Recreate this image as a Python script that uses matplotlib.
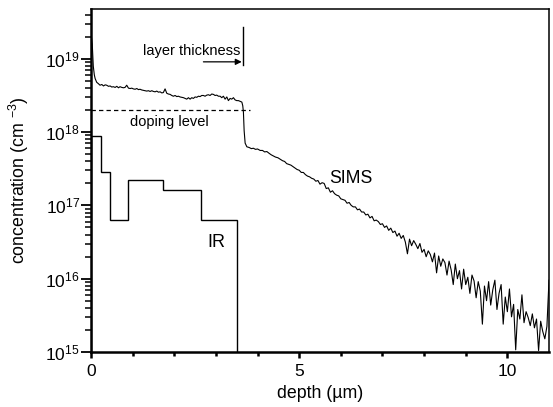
import matplotlib
matplotlib.use("Agg")
import numpy as np
from matplotlib import pyplot as plt
from matplotlib.ticker import LogLocator, FixedLocator

plt.rcParams["font.family"] = ["Liberation Sans", "DejaVu Sans"]
plt.rcParams["mathtext.fontset"] = "custom"
plt.rcParams["mathtext.rm"] = "Liberation Sans"
plt.rcParams["mathtext.it"] = "Liberation Sans:italic"
plt.rcParams["mathtext.bf"] = "Liberation Sans:bold"

# SIMS profile: depth (um) and log10 concentration (cm^-3)
sims_depth = [
    0.00, 0.03, 0.055, 0.08, 0.10, 0.137, 0.18, 0.216, 0.26, 0.30, 0.34, 0.377,
    0.42, 0.46, 0.50, 0.536, 0.58, 0.62, 0.66, 0.697, 0.74, 0.78, 0.817, 0.858,
    0.90, 0.94, 0.98, 1.017, 1.06, 1.10, 1.14, 1.178, 1.22, 1.26, 1.30, 1.339,
    1.38, 1.42, 1.46, 1.50, 1.54, 1.579, 1.62, 1.66, 1.70, 1.738, 1.779, 1.82,
    1.858, 1.90, 1.94, 1.978, 2.02, 2.06, 2.10, 2.139, 2.18, 2.22, 2.26, 2.30,
    2.34, 2.38, 2.42, 2.459, 2.50, 2.54, 2.58, 2.62, 2.66, 2.70, 2.74, 2.781,
    2.82, 2.86, 2.90, 2.94, 2.98, 3.02, 3.06, 3.101, 3.14, 3.18, 3.221, 3.262,
    3.30, 3.341, 3.38, 3.421, 3.46, 3.50, 3.541, 3.58, 3.623, 3.645, 3.661,
    3.678, 3.702, 3.743, 3.80, 3.85, 3.901, 3.95, 4.00, 4.063, 4.12, 4.17,
    4.224, 4.28, 4.33, 4.382, 4.43, 4.49, 4.543,
    4.60, 4.65, 4.70, 4.75, 4.80, 4.85, 4.90, 4.95, 5.00, 5.05, 5.10, 5.15,
    5.20, 5.25, 5.30, 5.35, 5.40, 5.45, 5.50, 5.55, 5.60, 5.65, 5.70, 5.75,
    5.80, 5.85, 5.90, 5.95, 6.00, 6.05, 6.10, 6.15, 6.20, 6.25, 6.30, 6.35,
    6.40, 6.45, 6.50, 6.55, 6.60, 6.65, 6.70, 6.75, 6.80, 6.85, 6.90, 6.95,
    7.00, 7.05, 7.10, 7.15, 7.20, 7.25, 7.30, 7.35, 7.40, 7.45, 7.50, 7.55,
    7.60, 7.65, 7.70, 7.75, 7.80, 7.85, 7.90, 7.95, 8.00, 8.05, 8.10, 8.15,
    8.20, 8.25, 8.30, 8.35, 8.40, 8.45, 8.50, 8.55, 8.60, 8.65, 8.70, 8.75,
    8.80, 8.85, 8.90, 8.95, 9.00, 9.05, 9.10, 9.15, 9.20, 9.25, 9.30, 9.35,
    9.40, 9.45, 9.50, 9.55, 9.60, 9.65, 9.70, 9.75, 9.80, 9.85, 9.90, 9.95,
    10.00, 10.05, 10.10, 10.15, 10.20, 10.25, 10.30, 10.35, 10.40, 10.45,
    10.50, 10.55, 10.60, 10.65, 10.70, 10.75, 10.80, 10.85, 10.90, 10.95, 11.00,
]
sims_log = [
    19.35, 19.20, 18.90, 18.78, 18.73, 18.68, 18.66, 18.64, 18.65, 18.63, 18.645, 18.64,
    18.625, 18.63, 18.615, 18.62, 18.61, 18.625, 18.605, 18.62, 18.61, 18.605, 18.61, 18.64,
    18.60, 18.595, 18.60, 18.59, 18.585, 18.595, 18.58, 18.585, 18.575, 18.57, 18.565, 18.56,
    18.565, 18.555, 18.565, 18.555, 18.55, 18.56, 18.545, 18.55, 18.535, 18.54, 18.59, 18.53,
    18.52, 18.515, 18.50, 18.49, 18.50, 18.485, 18.49, 18.48, 18.475, 18.47, 18.46, 18.45,
    18.47, 18.45, 18.47, 18.46, 18.48, 18.475, 18.49, 18.485, 18.50, 18.50, 18.49, 18.505,
    18.51, 18.50, 18.52, 18.515, 18.50, 18.505, 18.49, 18.49, 18.47, 18.49, 18.45, 18.48,
    18.43, 18.46, 18.45, 18.47, 18.44, 18.43, 18.43, 18.42, 18.41, 18.36, 18.27,
    18.02, 17.85, 17.80, 17.79, 17.775, 17.78, 17.765, 17.77, 17.75, 17.75, 17.73,
    17.735, 17.71, 17.69, 17.675, 17.66, 17.65, 17.63,
    17.61, 17.60, 17.57, 17.56, 17.55, 17.53, 17.51, 17.49, 17.48, 17.45, 17.45, 17.42,
    17.40, 17.39, 17.37, 17.36, 17.33, 17.34, 17.29, 17.31, 17.30, 17.23, 17.24, 17.18,
    17.20, 17.16, 17.14, 17.13, 17.09, 17.08, 17.07, 17.03, 17.04, 17.00, 16.98, 16.98,
    16.94, 16.95, 16.91, 16.91, 16.87, 16.88, 16.83, 16.85, 16.79, 16.80, 16.78, 16.74,
    16.75, 16.70, 16.72, 16.66, 16.69, 16.63, 16.65, 16.58, 16.62, 16.55, 16.59, 16.50,
    16.34, 16.54, 16.45, 16.52, 16.47, 16.41, 16.48, 16.36, 16.40, 16.30, 16.38, 16.33,
    16.23, 16.35, 16.08, 16.31, 16.17, 16.27, 16.22, 16.05, 16.24, 16.12, 15.92, 16.20,
    16.00, 16.11, 15.86, 16.13, 15.92, 16.02, 15.80, 16.05, 15.97, 15.74, 15.96, 15.83,
    15.38, 15.90, 15.70, 15.96, 15.64, 15.85, 15.98, 15.58, 15.80, 15.92, 15.38, 15.75,
    15.55, 15.86, 15.48, 15.65, 15.03, 15.58, 15.45, 15.78, 15.40, 15.55,
    15.47, 15.36, 15.52, 15.33, 15.45, 15.02, 15.42, 15.28, 15.18, 15.35, 15.98,
]

# IR step profile
ir_edges = [0.0, 0.23, 0.46, 0.88, 1.74, 2.64, 3.50]
ir_levels = [8.9e17, 2.9e17, 6.3e16, 2.2e17, 1.6e17, 6.3e16]

doping_level = 2.0e18
layer_thickness = 3.65

fig = plt.figure(figsize=(5.53, 4.07), dpi=100)
ax = fig.add_axes([91 / 553, 1 - 352 / 407, 458 / 553, 343 / 407])

ax.plot(sims_depth, 10 ** np.array(sims_log), color="black", linewidth=0.8)
ax.stairs(ir_levels, ir_edges, baseline=1e15, color="black", linewidth=1.0)
ax.plot([0, 3.82], [doping_level, doping_level], color="black",
        linewidth=0.9, linestyle=(0, (3.5, 2.5)))

# layer thickness marker
ax.plot([layer_thickness, layer_thickness], [8.3e18, 2.74e19],
        color="black", linewidth=1.0)
ax.annotate("", xy=(3.62, 9.1e18), xytext=(2.7, 9.1e18),
            arrowprops=dict(arrowstyle="-|>", color="black", lw=0.9,
                            mutation_scale=9, shrinkA=0, shrinkB=0))
ax.text(2.42, 1.29e19, "layer thickness", ha="center", va="center", fontsize=10.5)
ax.text(1.875, 1.38e18, "doping level", ha="center", va="center", fontsize=10.5)
ax.text(6.24, 2.3e17, "SIMS", ha="center", va="center", fontsize=12.7)
ax.text(3.0, 3.1e16, "IR", ha="center", va="center", fontsize=13)

ax.set_yscale("log")
ax.set_xlim(0, 11.0)
ax.set_ylim(1e15, 10 ** 19.68)

ax.xaxis.set_major_locator(FixedLocator([0, 5, 10]))
ax.xaxis.set_minor_locator(FixedLocator([1, 2, 3, 4, 6, 7, 8, 9]))
ax.yaxis.set_major_locator(LogLocator(base=10, numticks=10))
ax.yaxis.set_minor_locator(LogLocator(base=10, subs=np.arange(2, 10), numticks=20))

ax.tick_params(axis="y", which="major", direction="out", length=7, width=1.3,
               pad=1, labelsize=12.5)
ax.tick_params(axis="y", which="minor", direction="out", length=4, width=1.1)
ax.tick_params(axis="x", which="major", direction="out", length=4, width=1.8,
               pad=5, labelsize=12.5)
ax.tick_params(axis="x", which="minor", direction="out", length=3, width=1.8)

for side in ["left", "bottom"]:
    ax.spines[side].set_linewidth(1.8)
for side in ["top", "right"]:
    ax.spines[side].set_linewidth(1.1)

ax.set_xlabel("depth (µm)", fontsize=12.8)
ax.set_ylabel("concentration (cm $^{-3}$)", fontsize=12.8)
ax.xaxis.set_label_coords(0.5, -0.095)
ax.yaxis.set_label_coords(-0.13, 0.5)

fig.savefig("out.png", dpi=100)
